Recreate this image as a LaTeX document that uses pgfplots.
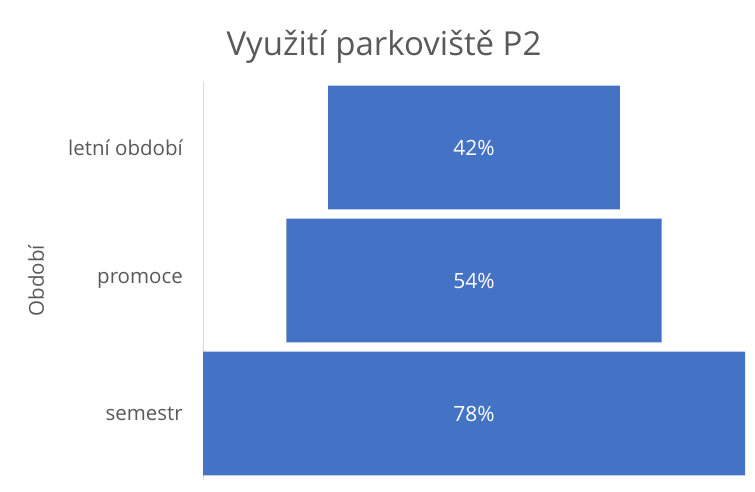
\documentclass[border=0pt]{standalone}
\usepackage{pgfplots}
\pgfplotsset{compat=1.18}
\usepackage{fontspec}
\setmainfont{Open Sans}
\definecolor{barblue}{HTML}{4472C4}
\definecolor{txtgray}{HTML}{595959}
\definecolor{axgray}{HTML}{D9D9D9}
\begin{document}
\begin{tikzpicture}[x=1pt,y=1pt]
\useasboundingbox (0,0) rectangle (755,491);
\begin{axis}[at={(203pt,11pt)}, anchor=south west, scale only axis,
  width=542pt, height=399pt,
  xbar stacked, bar width=0.93,
  xmin=0, xmax=78, ymin=-0.5, ymax=2.5,
  axis x line=none, axis y line*=left,
  y axis line style={draw=axgray, line width=0.8pt},
  ytick={0,1,2}, yticklabels={semestr,promoce,letní období},
  major tick length=0,
  yticklabel style={font=\fontsize{20.5}{24}\selectfont, text=txtgray, inner sep=0pt, xshift=-20pt},
  ylabel={Období},
  ylabel style={at={(axis description cs:-0.308,0.5)}, anchor=center, font=\fontsize{20.5}{24}\selectfont, text=txtgray},
]
\addplot[draw=none, fill=none] coordinates {(0,0) (12,1) (18,2)};
\addplot[fill=barblue, draw=none] coordinates {(78,0) (54,1) (42,2)};
\end{axis}
\begin{axis}[at={(203pt,11pt)}, anchor=south west, scale only axis,
  width=542pt, height=399pt, hide axis,
  xmin=0, xmax=78, ymin=-0.5, ymax=2.5]
\addplot[draw=none, mark=none, nodes near coords, point meta=explicit symbolic,
  nodes near coords style={anchor=center, text=white, font=\fontsize{21}{24}\selectfont}]
  coordinates {(39,0) [78\%] (39,1) [54\%] (39,2) [42\%]};
\end{axis}
\node[font=\fontsize{33}{38}\selectfont, text=txtgray] at (384,444) {Využití parkoviště P2};
\end{tikzpicture}
\end{document}
